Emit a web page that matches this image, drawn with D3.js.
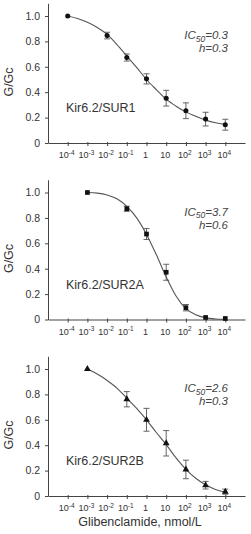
<!DOCTYPE html>
<html>
<head>
<meta charset="utf-8">
<script src="https://cdn.jsdelivr.net/npm/d3@7"></script>
<style>
  body { margin: 0; background: #fff; }
  svg { display: block; font-family: "Liberation Sans", Arial, sans-serif; }
  .axis path, .axis line { stroke: #444; }
  .axis text { fill: #333; }
</style>
</head>
<body>
<div id="chart"></div>
<script>
// x-axis tick exponents (10^n), y ticks
const tickExps = [-4, -3, -2, -1, 0, 1, 2, 3, 4];
const yTicks = [0, 0.2, 0.4, 0.6, 0.8, 1.0];

// Kir6.2/SUR1
const sur1Conc = [1e-4, 1e-2, 1e-1, 1, 10, 100, 1e3, 1e4];
const sur1Mean = [1.0, 0.846, 0.673, 0.505, 0.353, 0.254, 0.188, 0.144];
const sur1Err  = [0, 0.026, 0.028, 0.04, 0.062, 0.062, 0.054, 0.043];
const sur1FitConc = [1e-4, 10**-3.5, 1e-3, 10**-2.5, 1e-2, 10**-1.5, 1e-1, 10**-0.5, 1, 10**0.5, 10, 10**1.5, 100, 10**2.5, 1e3, 10**3.5, 1e4];
const sur1Fit = [1.0, 0.98, 0.95, 0.91, 0.855, 0.775, 0.685, 0.595, 0.50, 0.42, 0.345, 0.29, 0.245, 0.21, 0.18, 0.16, 0.145];

// Kir6.2/SUR2A
const sur2aConc = [1e-3, 1e-1, 1, 10, 100, 1e3, 1e4];
const sur2aMean = [1.0, 0.872, 0.673, 0.372, 0.093, 0.016, 0.008];
const sur2aErr  = [0, 0.02, 0.043, 0.063, 0.025, 0.008, 0.006];
const sur2aFitConc = [1e-3, 10**-2.5, 1e-2, 10**-1.5, 1e-1, 10**-0.5, 1, 10**0.5, 10, 10**1.5, 100, 10**2.5, 1e3, 10**3.5, 1e4];
const sur2aFit = [1.0, 0.995, 0.98, 0.95, 0.89, 0.80, 0.67, 0.51, 0.335, 0.185, 0.085, 0.037, 0.013, 0.004, 0.001];

// Kir6.2/SUR2B
const sur2bConc = [1e-3, 1e-1, 1, 10, 100, 1e3, 1e4];
const sur2bMean = [1.0, 0.762, 0.60, 0.415, 0.209, 0.085, 0.034];
const sur2bErr  = [0, 0.06, 0.09, 0.10, 0.073, 0.03, 0.02];
const sur2bFitConc = [1e-3, 10**-2.5, 1e-2, 10**-1.5, 1e-1, 10**-0.5, 1, 10**0.5, 10, 10**1.5, 100, 10**2.5, 1e3, 10**3.5, 1e4];
const sur2bFit = [1.0, 0.96, 0.91, 0.85, 0.77, 0.69, 0.60, 0.50, 0.405, 0.30, 0.21, 0.14, 0.088, 0.052, 0.03];

const panels = [
  { name: 'Kir6.2/SUR1', ic50: '0.3', h: '0.3', conc: sur1Conc, mean: sur1Mean, err: sur1Err,
    fitConc: sur1FitConc, fit: sur1Fit, symbol: d3.symbolCircle, size: 20, top: 16 },
  { name: 'Kir6.2/SUR2A', ic50: '3.7', h: '0.6', conc: sur2aConc, mean: sur2aMean, err: sur2aErr,
    fitConc: sur2aFitConc, fit: sur2aFit, symbol: d3.symbolSquare, size: 22, top: 192.5 },
  { name: 'Kir6.2/SUR2B', ic50: '2.6', h: '0.3', conc: sur2bConc, mean: sur2bMean, err: sur2bErr,
    fitConc: sur2bFitConc, fit: sur2bFit, symbol: d3.symbolTriangle, size: 20, top: 369 }
];

const width = 251, height = 534;
const svg = d3.select('#chart').append('svg')
  .attr('width', width)
  .attr('height', height);

const plotH = 127; // pixels per 1.0 of G/Gc
const x = d3.scaleLog().domain([1e-5, 1e5]).range([48, 245]);

panels.forEach(p => {
  const y = d3.scaleLinear().domain([0, 1.1]).range([p.top + plotH, p.top - plotH * 0.1]);
  const g = svg.append('g');

  // y axis
  const yAxis = d3.axisLeft(y)
    .tickValues(yTicks)
    .tickSize(3)
    .tickSizeOuter(0)
    .tickPadding(5)
    .tickFormat(d => d === 0 ? '0' : d3.format('.1f')(d));
  const yG = g.append('g').attr('class', 'axis')
    .attr('transform', `translate(${x(1e-5)},0)`)
    .call(yAxis);
  yG.selectAll('text').style('font-size', '10.5px');

  // x axis
  const xAxis = d3.axisBottom(x)
    .tickValues(tickExps.map(e => 10 ** e))
    .tickSize(3)
    .tickSizeOuter(0)
    .tickFormat('');
  const xG = g.append('g').attr('class', 'axis')
    .attr('transform', `translate(0,${y(0)})`)
    .call(xAxis);
  xG.selectAll('.tick line').attr('y1', -1);

  // x tick labels with superscripts
  const lab = g.append('g').selectAll('text')
    .data(tickExps)
    .join('text')
    .attr('x', e => x(10 ** e) - 1)
    .attr('y', y(0) + 15)
    .attr('text-anchor', 'middle')
    .style('font-size', '9px')
    .style('fill', '#333');
  lab.each(function (e) {
    const t = d3.select(this);
    if (e === 0) t.text('1');
    else if (e === 1) t.text('10');
    else {
      t.append('tspan').text('10');
      t.append('tspan').attr('dy', -3.5).style('font-size', '6.5px').text(e);
    }
  });

  // y label
  g.append('text')
    .attr('transform', `translate(13,${p.top + 66}) rotate(-90)`)
    .attr('text-anchor', 'middle')
    .style('font-size', '12.5px')
    .style('fill', '#333')
    .text('G/Gc');

  // fitted curve
  const line = d3.line()
    .x(d => x(d[0]))
    .y(d => y(d[1]))
    .curve(d3.curveMonotoneX);
  g.append('path')
    .datum(p.fitConc.map((c, i) => [c, p.fit[i]]))
    .attr('d', line)
    .attr('fill', 'none')
    .attr('stroke', '#555')
    .attr('stroke-width', 1.1);

  const pts = p.conc.map((c, i) => ({ c, m: p.mean[i], e: p.err[i] }));

  // error bars
  const eb = g.append('g').attr('stroke', '#555').attr('stroke-width', 0.9);
  pts.filter(d => d.e > 0.012).forEach(d => {
    eb.append('line').attr('x1', x(d.c)).attr('x2', x(d.c))
      .attr('y1', y(d.m - d.e)).attr('y2', y(d.m + d.e));
    [d.m - d.e, d.m + d.e].forEach(v => {
      eb.append('line').attr('x1', x(d.c) - 3).attr('x2', x(d.c) + 3)
        .attr('y1', y(v)).attr('y2', y(v));
    });
  });

  // markers
  g.append('g').selectAll('path')
    .data(pts)
    .join('path')
    .attr('transform', d => `translate(${x(d.c)},${y(d.m)})`)
    .attr('d', d3.symbol().type(p.symbol).size(p.size))
    .attr('fill', '#111');

  // annotations
  const ic = g.append('text')
    .attr('x', 228)
    .attr('y', p.top + 23)
    .attr('text-anchor', 'end')
    .style('font-size', '11.5px')
    .style('font-style', 'italic')
    .style('fill', '#444');
  ic.append('tspan').text('IC');
  ic.append('tspan').attr('dy', 2.5).style('font-size', '8.5px').text('50');
  ic.append('tspan').attr('dy', -2.5).text('=' + p.ic50);

  g.append('text')
    .attr('x', 228)
    .attr('y', p.top + 36)
    .attr('text-anchor', 'end')
    .style('font-size', '11.5px')
    .style('font-style', 'italic')
    .style('fill', '#444')
    .text('h=' + p.h);

  g.append('text')
    .attr('x', 66)
    .attr('y', p.top + 96)
    .style('font-size', '12.5px')
    .style('fill', '#333')
    .text(p.name);
});

svg.append('text')
  .attr('x', 140)
  .attr('y', 526)
  .attr('text-anchor', 'middle')
  .style('font-size', '12.5px')
  .style('fill', '#333')
  .text('Glibenclamide, nmol/L');
</script>
</body>
</html>
